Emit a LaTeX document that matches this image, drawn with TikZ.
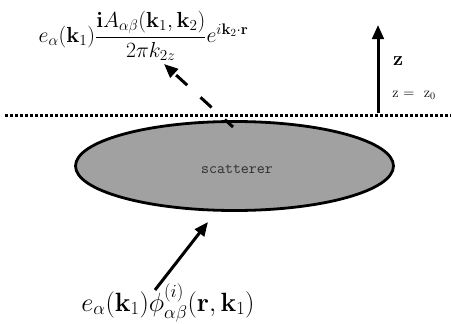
\documentclass[tikz,border=0pt]{standalone}
\usepackage{fix-cm}
\usepackage{amsmath}
\usetikzlibrary{arrows.meta,positioning,shapes.geometric}

\begin{document}
\begin{tikzpicture}[
    x=1pt, y=-1pt,
    body/.style={draw, ellipse, line width=2.8pt, fill=black!37, minimum width=318pt, minimum height=89pt, inner sep=0pt},
    arrow/.style={-{Triangle[length=14pt,width=11.5pt]}, line width=3pt},
    surface/.style={line width=3pt, dash pattern=on 3pt off 2pt},
    formula/.style={inner sep=0pt}
  ]
  \useasboundingbox (0,0) rectangle (453,324);
  % scatterer and plane z = z0
  \node[body] (scatterer) at (234.5,166) {};
  \node[font=\ttfamily\fontsize{15.5}{18}\selectfont, text=black!82] (name) at (237,169) {scatterer};
  \coordinate (planeL) at (5,115);
  \coordinate (planeR) at (451,115);
  \draw[surface] (planeL) -- (planeR);
  % z axis
  \coordinate (zbase) at (378,113);
  \coordinate (ztip) at (378,25);
  \draw[arrow] (zbase) -- (ztip);
  \node[font=\fontsize{20}{23}\selectfont] (zaxis) at (398,61) {$\mathbf{z}$};
  \node[font=\fontsize{14.5}{17}\selectfont] (zlevel) at (414,95) {z =\ \ z$_0$};
  % fields
  \node[formula, font=\fontsize{21.8}{25}\selectfont] (scattered) at (143.5,36)
    {$e_\alpha(\mathbf{k}_1)\dfrac{\mathbf{i}A_{\alpha\beta}(\mathbf{k}_1,\mathbf{k}_2)}{2\pi k_{2z}}e^{i\mathbf{k}_2\cdot\mathbf{r}}$};
  \node[formula, font=\fontsize{26.4}{30}\selectfont, anchor=base] (incident) at (168,311)
    {$e_\alpha(\mathbf{k}_1)\phi^{(i)}_{\alpha\beta}(\mathbf{r},\mathbf{k}_1)$};
  \coordinate (exit) at (233,127);
  \coordinate (outtip) at (164,64);
  \draw[arrow, dash pattern=on 15pt off 18pt, dash phase=4pt] (exit) -- (outtip);
  \coordinate (source) at (155,290);
  \coordinate (hit) at (208,222);
  \draw[arrow] (source) -- (hit);
\end{tikzpicture}
\end{document}
